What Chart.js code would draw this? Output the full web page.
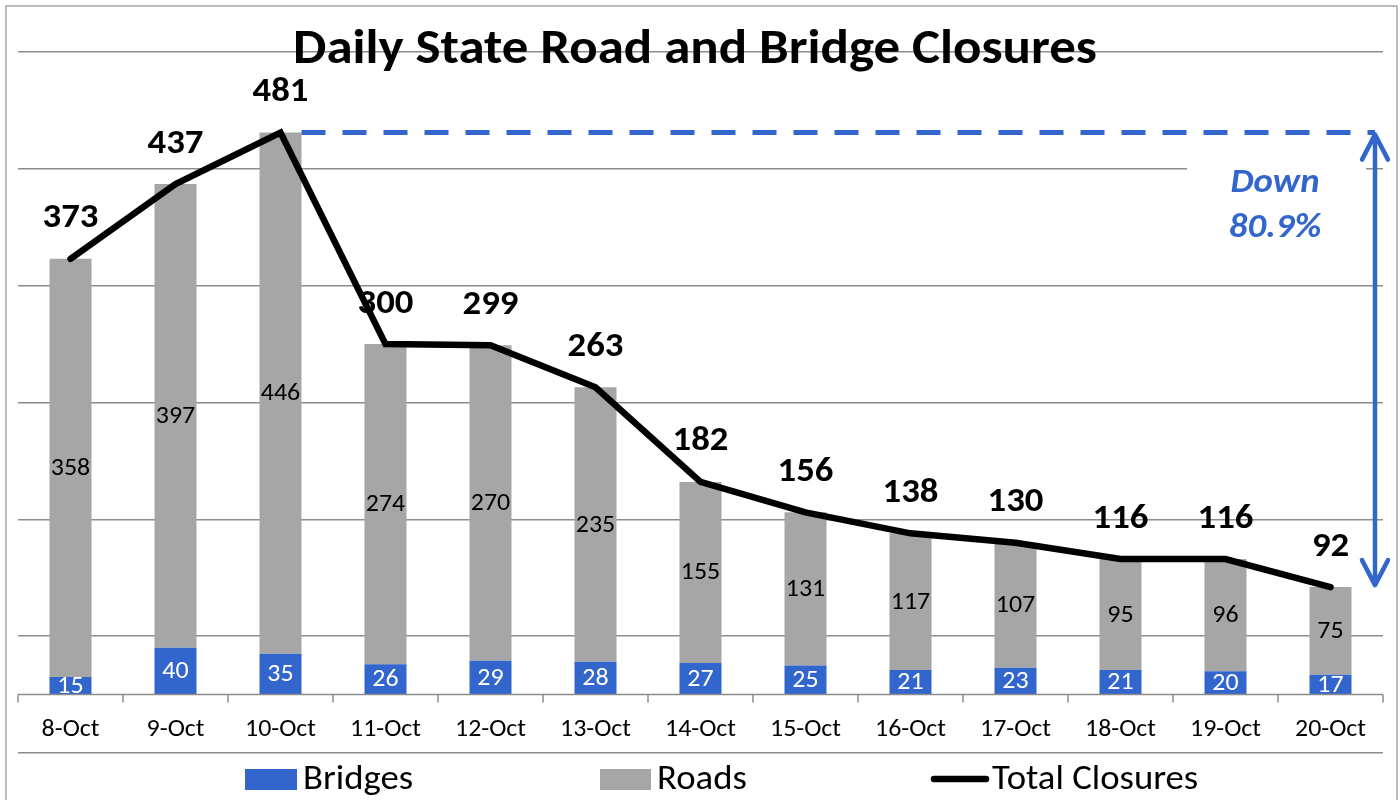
<!DOCTYPE html>
<html><head><meta charset="utf-8">
<script src="https://cdn.jsdelivr.net/npm/chart.js@4.4.1/dist/chart.umd.min.js"></script>
<style>html,body{margin:0;padding:0;background:#fff}#wrap{width:1400px;height:800px;position:relative}</style>
</head><body><div id="wrap"><canvas id="c" width="1400" height="800"></canvas></div>
<script>
const categories = ['8-Oct','9-Oct','10-Oct','11-Oct','12-Oct','13-Oct','14-Oct','15-Oct','16-Oct','17-Oct','18-Oct','19-Oct','20-Oct'];
const bridges = [15,40,35,26,29,28,27,25,21,23,21,20,17];
const roads = [358,397,446,274,270,235,155,131,117,107,95,96,75];
const totals = [373,437,481,300,299,263,182,156,138,130,116,116,92];
const gridTicks = [-50,50,150,250,350,450,550];
const seriesNames = ['Bridges','Roads','Total Closures'];
const chartTitle = 'Daily State Road and Bridge Closures';

const BLUE = '#3366cc', GRAY = '#a6a6a6', GRID = '#8c8c8c';
const FONT = 'Carlito, Lato, Calibri, "Open Sans", sans-serif';
const SX = 1.08; // horizontal text stretch to match reference proportions

function sText(ctx, t, x, y) {
  ctx.save();
  ctx.translate(x, y);
  ctx.scale(SX, 1);
  ctx.fillText(t, 0, 0);
  ctx.restore();
}

const overlay = {
  id: 'overlay',
  beforeDraw(chart) {
    const ctx = chart.ctx;
    ctx.save();
    ctx.fillStyle = '#fff';
    ctx.fillRect(0, 0, chart.width, chart.height);
    ctx.strokeStyle = '#a6a6a6';
    ctx.lineWidth = 1.5;
    ctx.strokeRect(6, 6, chart.width - 9, chart.height + 10);
    ctx.restore();
  },
  afterDatasetsDraw(chart) {
    const ctx = chart.ctx;
    const ca = chart.chartArea;
    const xs = chart.scales.x, ys = chart.scales.y;
    const y0 = ys.getPixelForValue(0);
    ctx.save();
    // bar labels (clipped above axis)
    ctx.save();
    ctx.beginPath();
    ctx.rect(ca.left, ca.top, ca.right - ca.left, y0 - ca.top);
    ctx.clip();
    ctx.textAlign = 'center';
    ctx.textBaseline = 'middle';
    ctx.font = '24px ' + FONT;
    [[1, '#ffffff'], [2, '#000000']].forEach(([di, col]) => {
      const meta = chart.getDatasetMeta(di);
      const vals = chart.data.datasets[di].data;
      meta.data.forEach((el, i) => {
        ctx.fillStyle = col;
        sText(ctx, String(vals[i]), el.x, (el.y + el.base) / 2 + 1);
      });
    });
    ctx.restore();
    // axis line at 0 and ticks
    ctx.strokeStyle = GRID;
    ctx.lineWidth = 1.5;
    ctx.beginPath();
    ctx.moveTo(ca.left, y0); ctx.lineTo(ca.right, y0);
    const step = (xs.getPixelForValue(1) - xs.getPixelForValue(0));
    for (let i = 0; i <= categories.length; i++) {
      const x = xs.getPixelForValue(0) - step / 2 + i * step;
      ctx.moveTo(x, y0); ctx.lineTo(x, y0 + 8);
    }
    ctx.stroke();
    // category labels
    ctx.fillStyle = '#000';
    ctx.font = '24px ' + FONT;
    ctx.textAlign = 'center';
    ctx.textBaseline = 'middle';
    categories.forEach((c, i) => sText(ctx, c, xs.getPixelForValue(i), y0 + 35));
    // total labels
    const lm = chart.getDatasetMeta(0);
    ctx.font = 'bold 34px ' + FONT;
    lm.data.forEach((p, i) => sText(ctx, String(totals[i]), p.x, p.y - 40));

    // annotation
    const maxV = Math.max(...totals);
    const peak = totals.indexOf(maxV);
    const last = totals[totals.length - 1];
    const yTop = ys.getPixelForValue(maxV);
    const yBot = ys.getPixelForValue(last);
    const barEl = chart.getDatasetMeta(2).data[peak];
    const ax = ca.right - 8;
    const tx = ca.right - 108;
    ctx.fillStyle = '#fff';
    ctx.fillRect(ca.right - 196, yTop + 20, 179, 110);
    ctx.fillStyle = BLUE;
    ctx.font = 'italic bold 34px ' + FONT;
    sText(ctx, 'Down', tx, yTop + 51);
    const pct = ((maxV - last) / maxV * 100).toFixed(1) + '%';
    sText(ctx, pct, tx, yTop + 96);
    // dashed line
    ctx.strokeStyle = BLUE;
    ctx.lineWidth = 5;
    ctx.setLineDash([24, 17]);
    ctx.beginPath();
    ctx.moveTo(barEl.x + barEl.width / 2, yTop);
    ctx.lineTo(ax, yTop);
    ctx.stroke();
    ctx.setLineDash([]);
    // vertical double arrow
    ctx.lineWidth = 4.5;
    ctx.lineCap = 'round';
    ctx.lineJoin = 'round';
    ctx.beginPath();
    ctx.moveTo(ax, yTop + 2); ctx.lineTo(ax, yBot - 2);
    ctx.moveTo(ax - 13, yTop + 27); ctx.lineTo(ax, yTop + 2); ctx.lineTo(ax + 13, yTop + 27);
    ctx.moveTo(ax - 13, yBot - 27); ctx.lineTo(ax, yBot - 2); ctx.lineTo(ax + 13, yBot - 27);
    ctx.stroke();
    ctx.restore();
  },
  afterDraw(chart) {
    const ctx = chart.ctx;
    ctx.save();
    // title
    ctx.fillStyle = '#000';
    ctx.font = 'bold 49px ' + FONT;
    ctx.textAlign = 'center';
    ctx.textBaseline = 'alphabetic';
    sText(ctx, chartTitle, 695, 63);
    // legend
    const ly = 779;
    ctx.font = '34px ' + FONT;
    ctx.textAlign = 'left';
    ctx.textBaseline = 'middle';
    ctx.fillStyle = BLUE; ctx.fillRect(245, ly - 10, 52, 21);
    ctx.fillStyle = '#000'; sText(ctx, seriesNames[0], 303, ly + 1);
    ctx.fillStyle = GRAY; ctx.fillRect(600, ly - 10, 51, 21);
    ctx.fillStyle = '#000'; sText(ctx, seriesNames[1], 657, ly + 1);
    ctx.strokeStyle = '#000'; ctx.lineWidth = 6.5; ctx.lineCap = 'round';
    ctx.beginPath(); ctx.moveTo(934, ly); ctx.lineTo(986, ly); ctx.stroke();
    sText(ctx, seriesNames[2], 992, ly + 1);
    ctx.restore();
  }
};

new Chart(document.getElementById('c'), {
  type: 'bar',
  data: {
    labels: categories,
    datasets: [
      { type: 'line', label: seriesNames[2], data: totals, borderColor: '#000', backgroundColor: '#000',
        borderWidth: 6.5, pointRadius: 0, tension: 0, stack: 'line', order: 0, borderJoinStyle: 'miter', borderCapStyle: 'round' },
      { label: seriesNames[0], data: bridges, backgroundColor: BLUE, stack: 'bars', order: 1 },
      { label: seriesNames[1], data: roads, backgroundColor: GRAY, stack: 'bars', order: 1 }
    ]
  },
  options: {
    responsive: false, animation: false, devicePixelRatio: 1,
    layout: { padding: { left: 18, right: 17, top: 52, bottom: 47 } },
    datasets: { bar: { barPercentage: 0.4, categoryPercentage: 1 } },
    plugins: { legend: { display: false }, title: { display: false }, tooltip: { enabled: false } },
    scales: {
      x: { display: false, stacked: true },
      y: { stacked: true, min: -50, max: 550,
        afterBuildTicks: s => { s.ticks = gridTicks.map(v => ({ value: v })); },
        ticks: { display: false },
        grid: { color: GRID, lineWidth: 1.5, drawTicks: false },
        border: { display: false } }
    }
  },
  plugins: [overlay]
});
</script></body></html>
